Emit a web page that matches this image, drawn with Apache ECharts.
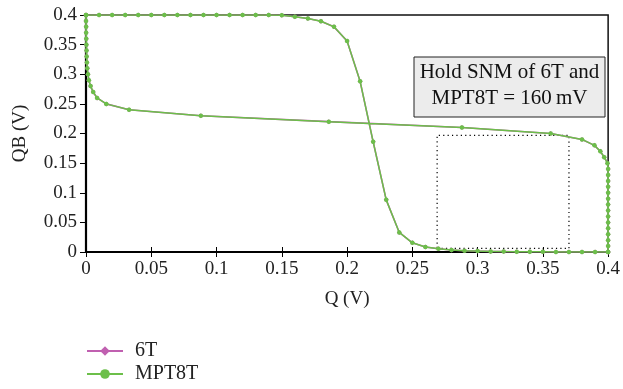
<!DOCTYPE html>
<html><head><meta charset="utf-8">
<script src="https://cdn.jsdelivr.net/npm/echarts@6/dist/echarts.min.js"></script>
<style>html,body{margin:0;padding:0;background:#fff}#c{width:623px;height:389px}</style>
</head><body><div id="c"></div>
<script>
// Sweep voltage (V) of the input node
const sweep = [0.00,0.01,0.02,0.03,0.04,0.05,0.06,0.07,0.08,0.09,0.10,0.11,0.12,0.13,0.14,0.15,0.16,0.17,0.18,0.19,0.20,
  0.21,0.22,0.23,0.24,0.25,0.26,0.27,0.28,0.29,0.30,0.31,0.32,0.33,0.34,0.35,0.36,0.37,0.38,0.39,0.40];
// Inverter output (V)
const vtc6T = [0.4,0.4,0.4,0.4,0.4,0.4,0.4,0.4,0.4,0.4,0.4,0.4,0.4,0.4,0.4,0.3995,0.397,0.394,0.3895,0.380,0.356,
  0.288,0.186,0.088,0.033,0.0155,0.0085,0.0055,0.0035,0.0022,0.0015,0.001,0.0007,0.0005,0.0004,0.0003,0.0002,0.0001,0.0001,0,0];
const vtcMPT8T = [0.4,0.4,0.4,0.4,0.4,0.4,0.4,0.4,0.4,0.4,0.4,0.4,0.4,0.4,0.4,0.3995,0.397,0.394,0.3895,0.380,0.356,
  0.288,0.186,0.088,0.033,0.0155,0.0085,0.0055,0.0035,0.0022,0.0015,0.001,0.0007,0.0005,0.0004,0.0003,0.0002,0.0001,0.0001,0,0];
// SNM square corners (Q, QB)
const snmBoxX = [0.269,0.370,0.370,0.269,0.269];
const snmBoxY = [0.006,0.006,0.197,0.197,0.006];
const seriesNames = ['6T','MPT8T'];
const noteLines = ['Hold SNM of 6T and','MPT8T = 160\u2009mV'];

function butterfly(v){
  const a = sweep.map((q,i)=>[q, v[i]]);
  const b = sweep.map((q,i)=>[v[i], q]);
  return a.concat(b);
}
const FONT = '"Liberation Serif","DejaVu Serif",serif';
const chart = echarts.init(document.getElementById('c'));
const axisTxt = {fontFamily: FONT, fontSize: 19, color: '#222'};
chart.setOption({
  animation: false,
  grid: {left: 86, right: 12, top: 15, bottom: 137, show: true, borderColor: '#111', borderWidth: 1.5, backgroundColor: 'transparent'},
  xAxis: [{
    type: 'value', min: 0, max: 0.4, interval: 0.05,
    name: 'Q (V)', nameLocation: 'middle', nameGap: 38, nameTextStyle: axisTxt,
    axisLine: {show: true, onZero: false, lineStyle: {color: '#000', width: 2.2}},
    axisTick: {show: true, inside: true, length: 5, lineStyle: {color: '#000', width: 1}},
    axisLabel: Object.assign({margin: 8, formatter: v => String(+v.toFixed(2))}, axisTxt),
    splitLine: {show: false}
  },{
    type: 'value', min: 0, max: 0.4, interval: 0.05, position: 'top',
    axisLine: {show: false}, axisLabel: {show: false},
    axisTick: {show: true, inside: true, length: 5, lineStyle: {color: '#000', width: 1}},
    splitLine: {show: false}
  }],
  yAxis: [{
    type: 'value', min: 0, max: 0.4, interval: 0.05,
    name: 'QB (V)', nameLocation: 'middle', nameGap: 56, nameRotate: 90, nameTextStyle: axisTxt,
    axisLine: {show: true, onZero: false, lineStyle: {color: '#000', width: 2.2}},
    axisTick: {show: true, inside: false, length: 6, lineStyle: {color: '#000', width: 1}},
    axisLabel: Object.assign({margin: 9, formatter: v => String(+v.toFixed(2))}, axisTxt),
    splitLine: {show: false}
  },{
    type: 'value', min: 0, max: 0.4, interval: 0.05, position: 'right',
    axisLine: {show: false}, axisLabel: {show: false},
    axisTick: {show: true, inside: true, length: 5, lineStyle: {color: '#000', width: 1}},
    splitLine: {show: false}
  }],
  legend: {
    orient: 'vertical', left: 86, top: 341, padding: 0, itemWidth: 36, itemHeight: 12, itemGap: 3,
    data: seriesNames,
    textStyle: {fontFamily: FONT, fontSize: 20, color: '#222', padding: [0,0,0,7]}
  },
  graphic: [
    {type: 'rect', x: 414, y: 57, shape: {width: 191, height: 60}, style: {fill: '#ececec', stroke: '#222', lineWidth: 1}, z: 100},
    {type: 'text', x: 509.5, y: 59, style: {text: noteLines.join('\n'), font: '21px ' + FONT, fill: '#111', textAlign: 'center', textVerticalAlign: 'top', lineHeight: 26.5}, z: 101}
  ],
  series: [
    {name: seriesNames[0], type: 'line', data: butterfly(vtc6T), symbol: 'diamond', symbolSize: 5,
      lineStyle: {color: '#c060b0', width: 1.6}, itemStyle: {color: '#c060b0'}, z: 2},
    {name: seriesNames[1], type: 'line', data: butterfly(vtcMPT8T), symbol: 'circle', symbolSize: 4.5,
      lineStyle: {color: '#6cbf4a', width: 1.5}, itemStyle: {color: '#6cbf4a'}, z: 3},
    {name: 'box', type: 'line', data: snmBoxX.map((x,i)=>[x, snmBoxY[i]]), symbol: 'none',
      lineStyle: {color: '#000', width: 1.2, type: [1.2, 3.2]}, z: 1, silent: true}
  ]
});
</script></body></html>
